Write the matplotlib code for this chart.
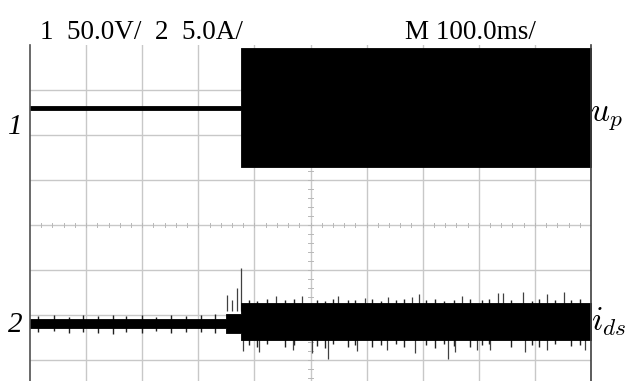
import numpy as np
import matplotlib.pyplot as plt

# oscilloscope screen in divisions: x 0..10, y centred at 0 (1 div = 45 px)
# channel 1 (u_p): flat before the switch-on, wide dense band after
ch1_x = [0.0, 3.76, 3.76, 10.0]
ch1_top = [2.65, 2.65, 3.93, 3.93]
ch1_bot = [2.55, 2.55, 1.30, 1.30]

# channel 2 (i_ds): dense band envelope
ch2_x = [0.0, 3.49, 3.49, 3.76, 3.76, 10.0]
ch2_top = [-2.09, -2.09, -1.98, -1.98, -1.74, -1.74]
ch2_bot = [-2.30, -2.30, -2.40, -2.40, -2.55, -2.55]

# fuzz on the band edges of channel 2 (small peaks)
fuzz_pre_x = [0.15, 0.42, 0.70, 0.95, 1.22, 1.48, 1.71, 1.99, 2.25, 2.52, 2.78, 3.05, 3.30]
fuzz_pre_top = [-2.03, -2.01, -2.04, -2.00, -2.03, -1.99, -2.02, -2.01, -2.04, -2.00, -2.02, -2.01, -1.98]
fuzz_pre_bot = [-2.38, -2.36, -2.40, -2.37, -2.39, -2.42, -2.37, -2.39, -2.36, -2.40, -2.38, -2.37, -2.39]
fuzz_post_x = [3.90, 4.05, 4.22, 4.55, 4.70, 5.12, 5.25, 5.40, 5.66, 5.80, 6.10, 6.25, 6.52, 6.66,
               7.05, 7.22, 7.38, 7.55, 7.85, 8.05, 8.18, 8.58, 8.95, 9.08, 9.35, 9.65, 9.80]
fuzz_post_top = [-1.66, -1.68, -1.64, -1.67, -1.65, -1.66, -1.68, -1.64, -1.67, -1.66, -1.65, -1.68, -1.66, -1.64,
                 -1.67, -1.65, -1.68, -1.66, -1.64, -1.67, -1.65, -1.66, -1.68, -1.64, -1.66, -1.67, -1.65]
fuzz_post_bot = [-2.66, -2.70, -2.64, -2.72, -2.66, -2.68, -2.74, -2.65, -2.70, -2.66, -2.72, -2.67, -2.64, -2.70,
                 -2.66, -2.73, -2.65, -2.68, -2.71, -2.66, -2.64, -2.70, -2.67, -2.72, -2.65, -2.69, -2.66]

# single spikes of channel 2
spike_up_x = [3.51, 3.60, 3.69, 3.76, 4.39, 4.85, 5.49, 5.97, 6.38, 6.81,
              6.93, 7.70, 8.34, 8.43, 8.79, 9.22, 9.52]
spike_up_y = [-1.56, -1.67, -1.41, -0.96, -1.58, -1.58, -1.58, -1.62, -1.60, -1.60,
              -1.53, -1.58, -1.51, -1.51, -1.49, -1.53, -1.49]
spike_dn_x = [3.80, 4.08, 4.69, 5.03, 5.31, 5.83, 6.36, 6.86, 7.45, 7.58,
              7.97, 8.20, 8.82, 9.22, 9.89]
spike_dn_y = [-2.80, -2.82, -2.78, -2.84, -2.98, -2.80, -2.78, -2.84, -2.98, -2.82,
              -2.78, -2.78, -2.82, -2.78, -2.78]

plt.rcParams["mathtext.fontset"] = "cm"
fig = plt.figure(figsize=(6.26, 3.81), dpi=100)
ax = fig.add_axes([30 / 626, 0, 561 / 626, 336 / 381])
ax.set_xlim(0, 10)
ax.set_ylim(-156 / 45, 4)

# graticule
grid_c = "#c8c8c8"
for gx in range(1, 10):
    ax.axvline(gx, color=grid_c, lw=1.0, zorder=0)
for gy in range(-3, 4):
    ax.axhline(gy, color=grid_c, lw=1.0, zorder=0)
for t in np.arange(0.2, 10, 0.2):
    ax.plot([t, t], [-0.05, 0.05], color="#b8b8b8", lw=0.7, zorder=0)
for t in np.arange(-3.4, 4, 0.2):
    ax.plot([4.96, 5.04], [t, t], color="#b8b8b8", lw=0.7, zorder=0)

ax.fill_between(ch1_x, ch1_bot, ch1_top, color="black", lw=0.6, zorder=2)
ax.fill_between(ch2_x, ch2_bot, ch2_top, color="black", lw=0.6, zorder=2)
ax.vlines(fuzz_pre_x, -2.2, fuzz_pre_top, color="#202020", lw=1.0, zorder=1)
ax.vlines(fuzz_pre_x, -2.2, fuzz_pre_bot, color="#202020", lw=1.0, zorder=1)
ax.vlines(fuzz_post_x, -2.1, fuzz_post_top, color="#202020", lw=1.0, zorder=1)
ax.vlines(fuzz_post_x, -2.1, fuzz_post_bot, color="#202020", lw=1.0, zorder=1)
ax.vlines(spike_up_x, -1.9, spike_up_y, color="#404040", lw=0.9, zorder=1)
ax.vlines(spike_dn_x, -2.4, spike_dn_y, color="#404040", lw=0.9, zorder=1)

for s in ["top", "bottom"]:
    ax.spines[s].set_visible(False)
ax.spines["left"].set_color("#505050")
ax.spines["right"].set_color("#404040")
ax.spines["left"].set_linewidth(1.2)
ax.spines["right"].set_linewidth(1.2)
ax.set_xticks([])
ax.set_yticks([])

serif = "Liberation Serif"
fig.text(40 / 626, 1 - 39 / 381, "1  50.0V/  2  5.0A/", fontsize=19.5,
         family=serif, va="baseline")
fig.text(405 / 626, 1 - 39 / 381, "M 100.0ms/", fontsize=19.5,
         family=serif, va="baseline")
fig.text(15 / 626, 1 - 127 / 381, "1", fontsize=21, family=serif,
         style="italic", ha="center", va="center")
fig.text(15 / 626, 1 - 325 / 381, "2", fontsize=21, family=serif,
         style="italic", ha="center", va="center")
fig.text(590 / 626, 1 - 115 / 381, r"$u_p$", fontsize=24, va="center")
fig.text(591 / 626, 1 - 322 / 381, r"$i_{ds}$", fontsize=24, va="center")

fig.savefig("out.png", dpi=100)
